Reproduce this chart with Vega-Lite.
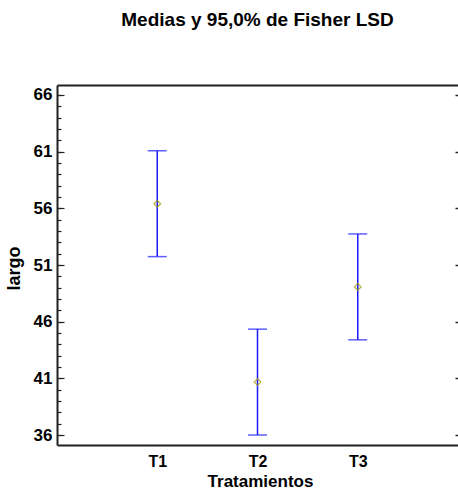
{
  "$schema": "https://vega.github.io/schema/vega-lite/v6.json",
  "width": 401,
  "height": 360,
  "autosize": "none",
  "padding": {"left": 57, "top": 85, "right": 0, "bottom": 50},
  "background": "white",
  "title": {
    "text": "Medias y 95,0% de Fisher LSD",
    "font": "Liberation Sans",
    "fontSize": 19,
    "fontWeight": "bold",
    "color": "#000000",
    "offset": 55
  },
  "config": {
    "view": {"stroke": null},
    "axis": {
      "labelFont": "Liberation Sans",
      "titleFont": "Liberation Sans",
      "labelColor": "#000000",
      "titleColor": "#000000",
      "labelFontWeight": "bold",
      "titleFontWeight": "bold",
      "domainColor": "#222222",
      "tickColor": "#222222",
      "grid": false
    }
  },
  "data": {
    "values": [
      {"trat": "T1", "lower": 51.74, "mean": 56.41, "upper": 61.08},
      {"trat": "T2", "lower": 36.0, "mean": 40.67, "upper": 45.34},
      {"trat": "T3", "lower": 44.4, "mean": 49.07, "upper": 53.74}
    ]
  },
  "layer": [
    {
      "mark": {"type": "rule", "color": "#1a1aff", "strokeWidth": 1.5},
      "encoding": {
        "x": {
          "field": "trat",
          "type": "ordinal",
          "scale": {"type": "point", "padding": 1.093},
          "axis": {
            "orient": "bottom",
            "title": "Tratamientos",
            "titleFontSize": 17,
            "titleX": 203,
            "titleY": 41,
            "titleBaseline": "alphabetic",
            "labelFontSize": 16,
            "labelAngle": 0,
            "labelPadding": 8,
            "ticks": false,
            "domainWidth": 2
          }
        },
        "y": {
          "field": "lower",
          "type": "quantitative",
          "scale": {"domain": [35.12, 66.88], "nice": false, "zero": false},
          "axis": {
            "orient": "left",
            "title": "largo",
            "titleFontSize": 18,
            "titleAngle": -90,
            "titleX": -38,
            "titleY": 183,
            "titleAlign": "center",
            "titleBaseline": "alphabetic",
            "values": [36, 41, 46, 51, 56, 61, 66],
            "labelFontSize": 17,
            "tickSize": -7,
            "tickWidth": 1.2,
            "labelPadding": 12,
            "domainWidth": 2
          }
        },
        "y2": {"field": "upper"}
      }
    },
    {
      "mark": {"type": "tick", "orient": "horizontal", "color": "#1a1aff", "size": 19, "thickness": 1.5},
      "encoding": {
        "x": {
          "field": "trat",
          "type": "ordinal",
          "axis": {
            "orient": "top",
            "title": null,
            "labels": false,
            "ticks": false,
            "domainWidth": 2
          }
        },
        "y": {
          "field": "lower",
          "type": "quantitative",
          "axis": {
            "orient": "left",
            "title": null,
            "labels": false,
            "domain": false,
            "values": [35, 36, 37, 38, 39, 40, 41, 42, 43, 44, 45, 46, 47, 48, 49, 50, 51, 52, 53, 54, 55, 56, 57, 58, 59, 60, 61, 62, 63, 64, 65, 66],
            "tickSize": -4,
            "tickWidth": 1.2
          }
        }
      }
    },
    {
      "mark": {"type": "tick", "orient": "horizontal", "color": "#1a1aff", "size": 19, "thickness": 1.5},
      "encoding": {
        "x": {"field": "trat", "type": "ordinal", "axis": null},
        "y": {
          "field": "upper",
          "type": "quantitative",
          "axis": {
            "orient": "right",
            "title": null,
            "labels": false,
            "domain": false,
            "values": [36, 41, 46, 51, 56, 61, 66],
            "tickSize": -3,
            "tickWidth": 1.5
          }
        }
      }
    },
    {
      "mark": {"type": "point", "shape": "diamond", "filled": false, "stroke": "#a09a00", "strokeWidth": 1.3, "size": 45},
      "encoding": {
        "x": {"field": "trat", "type": "ordinal", "axis": null},
        "y": {"field": "mean", "type": "quantitative", "axis": null}
      }
    }
  ],
  "resolve": {"axis": {"x": "independent", "y": "independent"}}
}
